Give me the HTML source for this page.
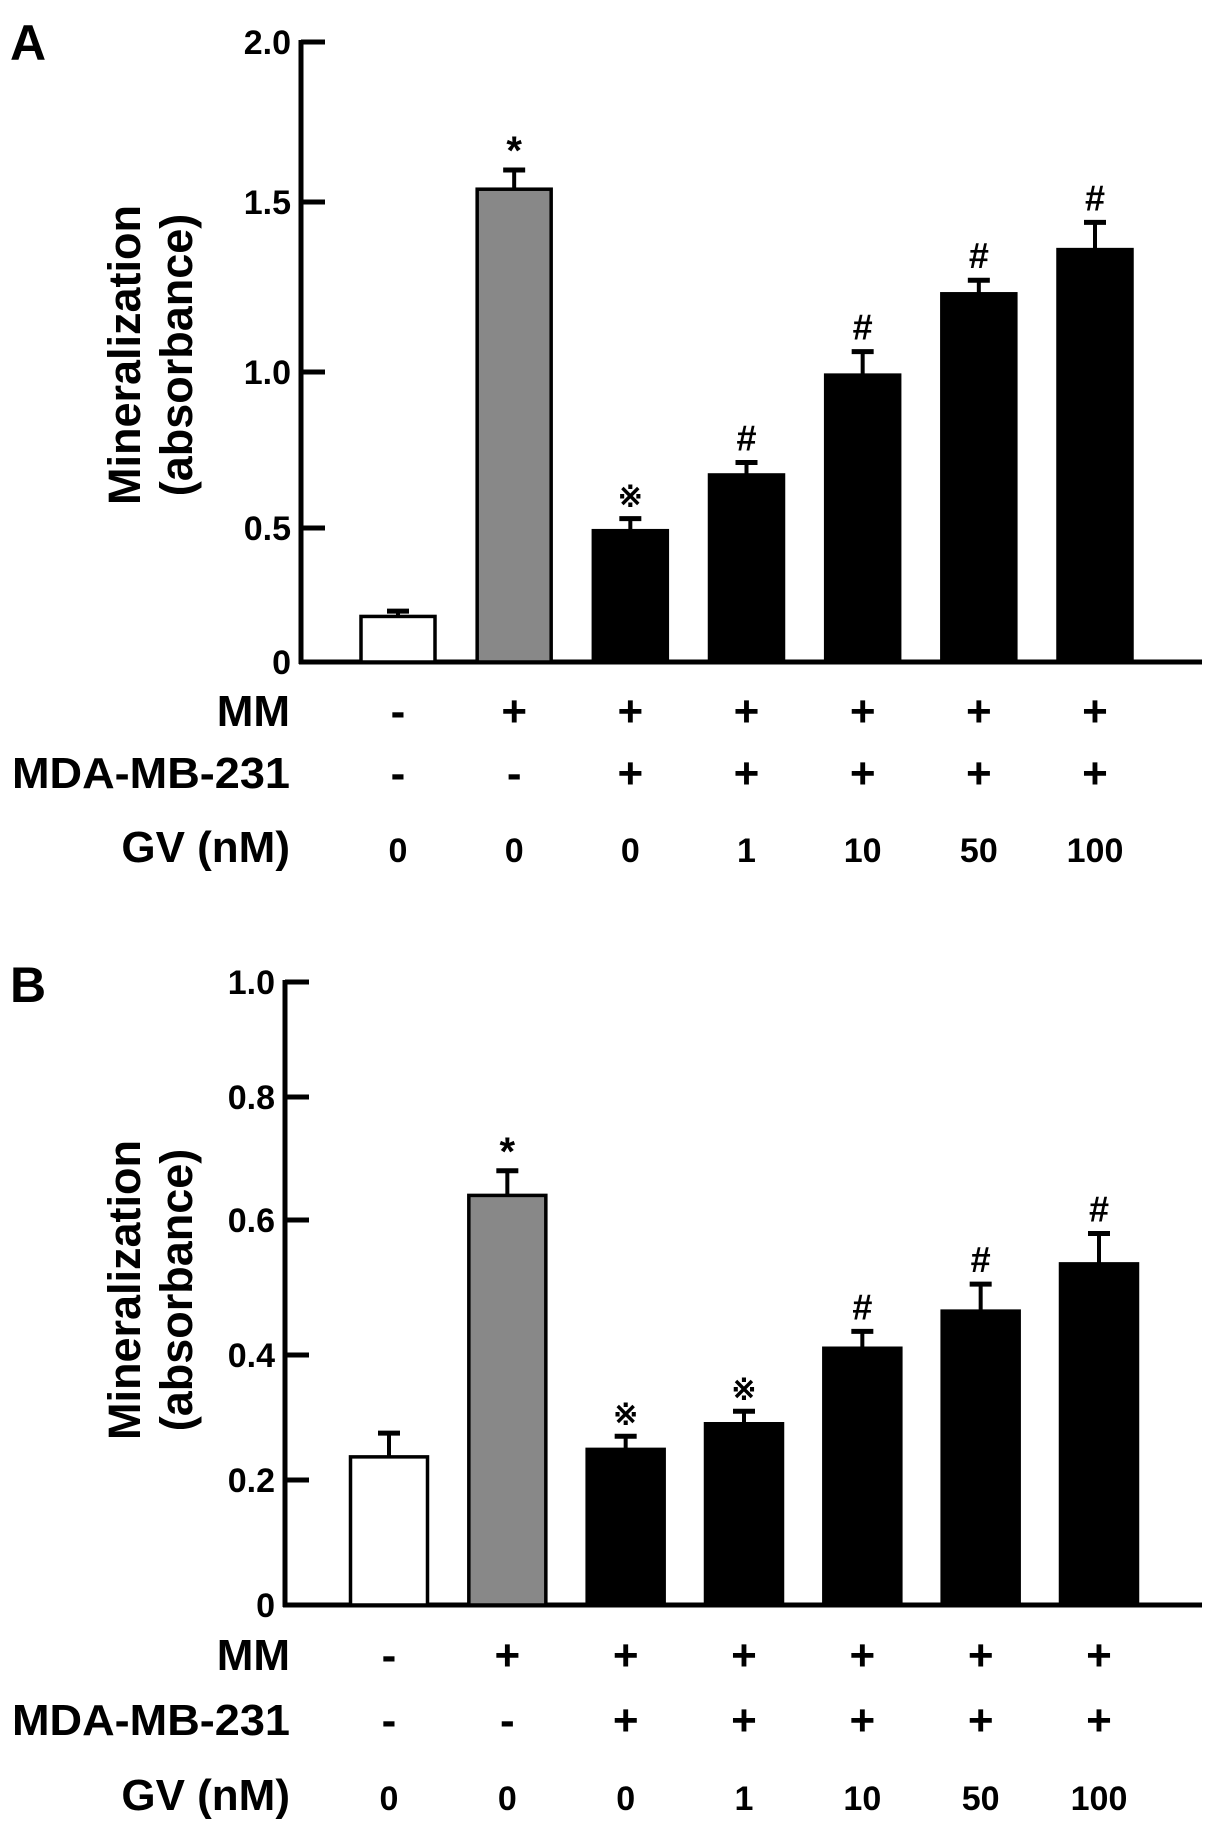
<!DOCTYPE html>
<html><head><meta charset="utf-8"><style>
html,body{margin:0;padding:0;background:#fff;}
svg{display:block;}
text{font-family:"Liberation Sans",sans-serif;font-weight:bold;fill:#000;}
.tk{font-family:"Liberation Sans Narrow","Liberation Sans",sans-serif;font-size:34px;}
.row{font-size:44px;}
</style></head><body>
<svg id="chart" width="1205" height="1826" viewBox="0 0 1205 1826" xmlns="http://www.w3.org/2000/svg"></svg>
<script>
const categories = ["ctrl","MM","MM+231","GV1","GV10","GV50","GV100"];
const valuesA = [0.17,1.54,0.49,0.67,0.99,1.23,1.36];
const errorsA = [0.02,0.06,0.04,0.04,0.07,0.04,0.08];
const valuesB = [0.237,0.64,0.249,0.29,0.41,0.465,0.535];
const errorsB = [0.038,0.04,0.021,0.02,0.025,0.04,0.045];
const ticksA = [0,0.5,1.0,1.5,2.0];
const tickLabelsA = ["0","0.5","1.0","1.5","2.0"];
const ticksB = [0,0.2,0.4,0.6,0.8,1.0];
const tickLabelsB = ["0","0.2","0.4","0.6","0.8","1.0"];
const marksA = ["","*","\u203B","#","#","#","#"];
const marksB = ["","*","\u203B","\u203B","#","#","#"];
const mmRow = ["-","+","+","+","+","+","+"];
const mdaRow = ["-","-","+","+","+","+","+"];
const gvRow = ["0","0","0","1","10","50","100"];

const NS="http://www.w3.org/2000/svg";
const svg=document.getElementById('chart');
function mk(tag,attrs,parent,txt){const e=document.createElementNS(NS,tag);for(const k in attrs)e.setAttribute(k,attrs[k]);if(txt!==undefined)e.textContent=txt;(parent||svg).appendChild(e);return e;}

function drawPanel(cfg){
  const g=mk('g',{});
  
  
  function y(v){
    const t=cfg.ticks,p=cfg.tickPix;
    for(let i=0;i<t.length-1;i++){
      if(v<=t[i+1]||i===t.length-2){return p[i]+(v-t[i])/(t[i+1]-t[i])*(p[i+1]-p[i]);}
    }
  }
  const n=categories.length;
  function x(i){return cfg.x0+i*(cfg.x1-cfg.x0)/(n-1);}
  const pl=mk('text',{x:cfg.letterX,y:cfg.letterY,'font-size':50},g,cfg.letter);
  
  const ya=mk('line',{x1:cfg.ax,y1:y(cfg.ticks[cfg.ticks.length-1])-2,x2:cfg.ax,y2:y(0)+2,stroke:'#000','stroke-width':5},g);
  
  const xa=mk('line',{x1:cfg.ax-2,y1:y(0),x2:1202,y2:y(0),stroke:'#000','stroke-width':5},g);
  
  cfg.ticks.forEach((t,i)=>{
    if(t>0){const tl=mk('line',{x1:cfg.ax,y1:y(t),x2:cfg.ax+24,y2:y(t),stroke:'#000','stroke-width':5},g);
    }
    const tt=mk('text',{x:cfg.ax-10,y:y(t)+12,'text-anchor':'end',class:'tk'},g,cfg.tickLabels[i]);
    
  });
  const tg=mk('text',{transform:`translate(${cfg.titleX},${cfg.titleY}) rotate(-90)`,'text-anchor':'middle','font-size':45},g);
  
  mk('tspan',{x:0,dy:0},tg,'Mineralization');
  mk('tspan',{x:0,dy:52},tg,'(absorbance)');
  const fills=['#fff','#888','#000','#000','#000','#000','#000'];
  cfg.values.forEach((v,i)=>{
    const cx=x(i),w=cfg.bw;
    const top=y(v+cfg.errors[i]);
    const el=mk('line',{x1:cx,y1:y(v),x2:cx,y2:top,stroke:'#000','stroke-width':4},g);
    
    const cap=mk('line',{x1:cx-11,y1:top,x2:cx+11,y2:top,stroke:'#000','stroke-width':5},g);
    
    const r=mk('rect',{x:cx-w/2,y:y(v),width:w,height:y(0)-y(v),fill:fills[i],stroke:'#000','stroke-width':3.5},g);
    
    if(cfg.marks[i]){
      const mkc=cfg.marks[i];
      const m=mk('text',{x:cx,y:top-(mkc==='*'?6:12),'text-anchor':'middle','font-weight':mkc==='#'?'normal':'bold','font-size':mkc==='*'?40:(mkc==='#'?36:30)},g,mkc);
      
    }
  });
  const rows=[['MM',mmRow,cfg.rowY[0]],['MDA-MB-231',mdaRow,cfg.rowY[1]],['GV (nM)',gvRow,cfg.rowY[2]]];
  rows.forEach(([lab,arr,ry])=>{
    const rl=mk('text',{x:290,y:ry,'text-anchor':'end',class:'row',textLength:lab==='MDA-MB-231'?278:null},g,lab);
    if(lab==='MDA-MB-231'){rl.setAttribute('textLength','278');rl.setAttribute('lengthAdjust','spacingAndGlyphs');}
    rl.removeAttribute('textLength');
    if(lab==='MDA-MB-231'){rl.setAttribute('textLength','278');}
    
    arr.forEach((s,i)=>{
      const isGv=lab==='GV (nM)';
      const c=mk('text',{x:x(i),y:ry,'text-anchor':'middle',class:isGv?'tk':'row','font-size':isGv?38:40},g,s);
      
    });
  });
}
drawPanel({name:'panel-a',letter:'A',letterX:10,letterY:60,ax:301,ticks:ticksA,tickLabels:tickLabelsA,tickPix:[662,528,372,202,42],
  values:valuesA,errors:errorsA,marks:marksA,x0:398,x1:1095,bw:74,titleX:140,titleY:355,rowY:[726,788,862]});
drawPanel({name:'panel-b',letter:'B',letterX:10,letterY:1002,ax:285,ticks:ticksB,tickLabels:tickLabelsB,tickPix:[1605,1480,1355,1220,1097,982],
  values:valuesB,errors:errorsB,marks:marksB,x0:389,x1:1099,bw:77,titleX:140,titleY:1290,rowY:[1670,1735,1810]});
</script>
</body></html>
